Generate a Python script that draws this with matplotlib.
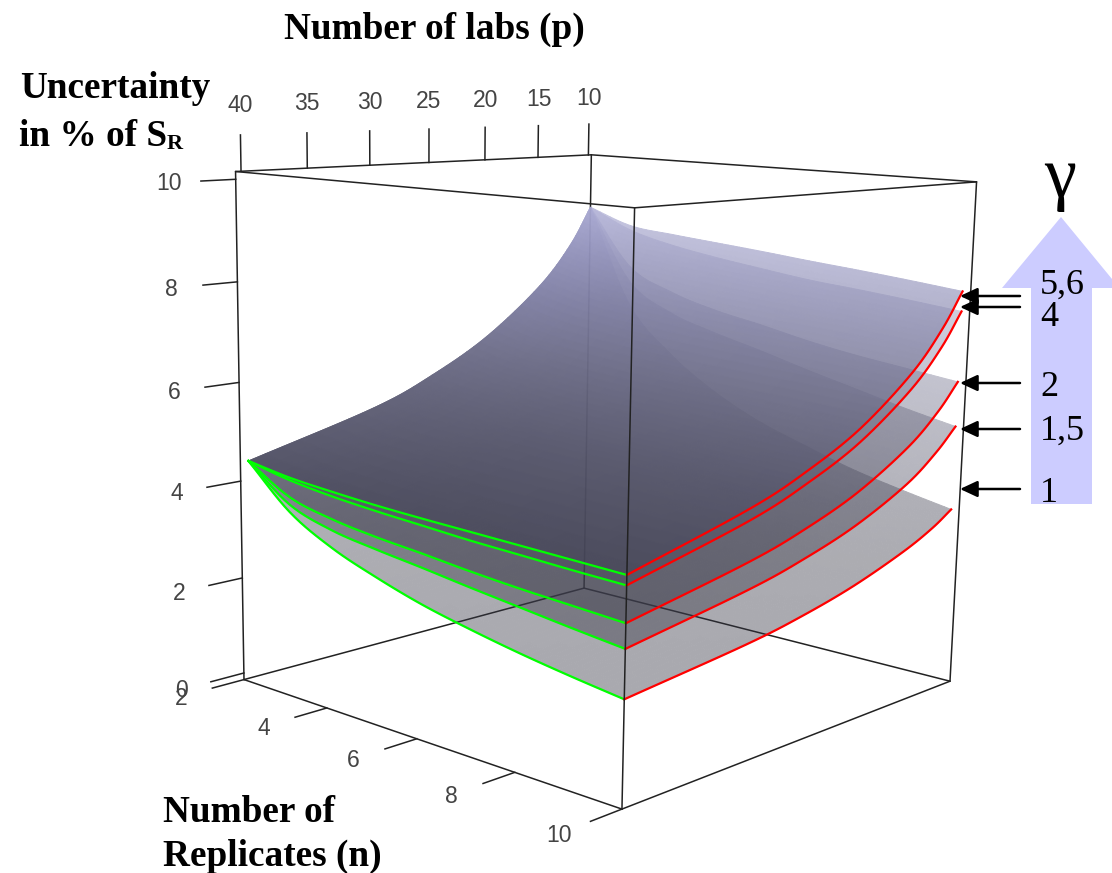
import matplotlib
matplotlib.use('Agg')
import matplotlib.pyplot as plt
from matplotlib.colors import LinearSegmentedColormap, Normalize
from matplotlib.patches import Polygon
import numpy as np

W, H = 1112, 873

# axes values
replicates = np.array([2, 3, 4, 5, 6, 7, 8, 9, 10], dtype=float)
labs = np.array([10, 12, 15, 20, 25, 30, 40], dtype=float)
n_ticks = [2, 4, 6, 8, 10]
p_ticks = [40, 35, 30, 25, 20, 15, 10]
z_ticks = [0, 2, 4, 6, 8, 10]

# uncertainty, rows = n (2..10), columns = p (10,12,15,20,25,30,40)
gamma_1 = np.array([
    [8.95, 8.12, 7.26, 6.28, 5.60, 5.10, 4.45],
    [6.83, 6.39, 5.78, 4.97, 4.48, 4.10, 3.62],
    [5.84, 5.49, 4.97, 4.27, 3.87, 3.52, 3.12],
    [5.17, 4.88, 4.42, 3.79, 3.42, 3.12, 2.78],
    [4.68, 4.38, 3.98, 3.44, 3.09, 2.83, 2.50],
    [4.33, 4.05, 3.68, 3.19, 2.85, 2.60, 2.29],
    [4.01, 3.75, 3.42, 2.96, 2.65, 2.40, 2.11],
    [3.77, 3.52, 3.20, 2.76, 2.47, 2.25, 1.96],
    [3.56, 3.28, 2.97, 2.58, 2.30, 2.10, 1.83]])
gamma_1_5 = np.array([
    [8.95, 8.12, 7.26, 6.28, 5.60, 5.10, 4.45],
    [7.35, 6.79, 6.14, 5.31, 4.75, 4.33, 3.77],
    [6.76, 6.24, 5.65, 4.88, 4.37, 3.98, 3.47],
    [6.46, 5.97, 5.41, 4.67, 4.18, 3.81, 3.32],
    [6.22, 5.75, 5.21, 4.50, 4.03, 3.67, 3.20],
    [5.96, 5.51, 5.00, 4.32, 3.86, 3.52, 3.07],
    [5.72, 5.29, 4.78, 4.13, 3.70, 3.38, 2.95],
    [5.48, 5.05, 4.56, 3.95, 3.54, 3.24, 2.83],
    [5.27, 4.83, 4.33, 3.78, 3.40, 3.12, 2.72]])
gamma_2 = np.array([
    [8.95, 8.12, 7.26, 6.28, 5.60, 5.10, 4.45],
    [7.69, 7.05, 6.35, 5.50, 4.92, 4.49, 3.92],
    [7.23, 6.63, 5.97, 5.17, 4.63, 4.23, 3.69],
    [6.96, 6.39, 5.76, 4.99, 4.47, 4.08, 3.56],
    [6.78, 6.23, 5.61, 4.86, 4.35, 3.97, 3.47],
    [6.58, 6.04, 5.44, 4.72, 4.23, 3.86, 3.37],
    [6.42, 5.90, 5.28, 4.60, 4.12, 3.76, 3.29],
    [6.30, 5.77, 5.18, 4.50, 4.05, 3.70, 3.23],
    [6.18, 5.66, 5.08, 4.42, 3.97, 3.64, 3.17]])
gamma_4 = np.array([
    [8.95, 8.12, 7.26, 6.28, 5.60, 5.10, 4.45],
    [8.52, 7.71, 6.87, 5.98, 5.38, 4.90, 4.26],
    [8.28, 7.50, 6.67, 5.80, 5.22, 4.76, 4.14],
    [8.12, 7.35, 6.54, 5.69, 5.12, 4.67, 4.06],
    [7.99, 7.24, 6.44, 5.60, 5.05, 4.60, 4.00],
    [7.87, 7.12, 6.36, 5.52, 4.97, 4.53, 3.94],
    [7.79, 7.08, 6.31, 5.47, 4.92, 4.49, 3.90],
    [7.70, 7.01, 6.26, 5.43, 4.87, 4.44, 3.86],
    [7.60, 6.94, 6.22, 5.39, 4.83, 4.41, 3.83]])
gamma_5_6 = np.array([
    [8.95, 8.12, 7.26, 6.28, 5.60, 5.10, 4.45],
    [8.62, 7.88, 7.03, 6.07, 5.45, 4.97, 4.31],
    [8.52, 7.76, 6.91, 5.96, 5.35, 4.88, 4.23],
    [8.44, 7.66, 6.82, 5.87, 5.27, 4.81, 4.17],
    [8.36, 7.59, 6.75, 5.81, 5.22, 4.76, 4.13],
    [8.27, 7.52, 6.70, 5.77, 5.18, 4.73, 4.10],
    [8.19, 7.47, 6.66, 5.74, 5.14, 4.69, 4.07],
    [8.10, 7.40, 6.61, 5.70, 5.10, 4.66, 4.04],
    [8.00, 7.31, 6.54, 5.66, 5.07, 4.63, 4.01]])

surfaces = [gamma_1, gamma_1_5, gamma_2, gamma_4, gamma_5_6]
layer_alpha = [0.65, 0.65, 0.65, 0.65, 0.81]

gamma_labels = ['5,6', '4', '2', '1,5', '1']
gamma_label_y = [285, 317, 387, 431, 493]
arrow_y = [296, 307, 383, 429, 489]
arrow_tip_x = [960, 960, 960, 960, 960]

# box limits, the frame is a bit bigger than the data
n_box = (2.0, 10.0)
p_box = (9.7, 40.4)
z_box = (-0.14, 10.15)

# where the box corners sit in the picture, used to fit the camera
corners = [
    (n_box[0], p_box[1], z_box[0], 244, 680), (n_box[0], p_box[1], z_box[1], 236, 171),
    (n_box[1], p_box[1], z_box[0], 622, 809), (n_box[1], p_box[1], z_box[1], 634, 208),
    (n_box[1], p_box[0], z_box[0], 950, 681), (n_box[1], p_box[0], z_box[1], 977, 182),
    (n_box[0], p_box[0], z_box[0], 584, 588), (n_box[0], p_box[0], z_box[1], 591, 155),
]


def fit_camera(points):
    rows, rhs = [], []
    for x, y, z, u, v in points:
        rows.append([x, y, z, 1, 0, 0, 0, 0, -u * x, -u * y, -u * z])
        rhs.append(u)
        rows.append([0, 0, 0, 0, x, y, z, 1, -v * x, -v * y, -v * z])
        rhs.append(v)
    h = np.linalg.lstsq(np.array(rows, float), np.array(rhs, float), rcond=None)[0]
    return np.array([h[:4], h[4:8], [0, 0, 0, 1], [h[8], h[9], h[10], 1]])


def curve(values, steps=8):
    # smooth draw path through one row of table values (hermite on the index)
    t = np.linspace(0, len(values) - 1, (len(values) - 1) * steps + 1)
    i = np.minimum(t.astype(int), len(values) - 2)
    u = t - i
    m = np.gradient(values)
    return ((2 * u**3 - 3 * u**2 + 1) * values[i] + (u**3 - 2 * u**2 + u) * m[i]
            + (-2 * u**3 + 3 * u**2) * values[i + 1] + (u**3 - u**2) * m[i + 1])


def refine(table, steps=8):
    by_col = np.array([curve(row, steps) for row in table])
    return np.array([curve(col, steps) for col in by_col.T]).T


def seat(n, p):
    # the surfaces sit slightly skewed inside the frame in the source picture
    n2 = n + 0.2 * (10 - n) / 8 * (p - 10) / 30
    p2 = (p + 0.4 * (p - 10) / 30 - 0.3 * (10 - n) / 8 * (40 - p) / 30
          + 0.6 * (n - 2) / 8 * (40 - p) / 30)
    return n2, p2


def fade(alpha):
    # whole sheet goes transparent at once, so the facets do not show as a grid
    def apply(img, dpi):
        img = img.copy()
        img[..., 3] *= alpha
        return img, 0, 0
    return apply


fig = plt.figure(figsize=(W / 100, H / 100), dpi=100)
fig.patch.set_facecolor('white')

# apply_aspect keeps 3d axes square, so make it a square that covers the figure
ax = fig.add_axes([0, -(W / H - 1) / 2, 1, W / H], projection='3d')
ax.set_axis_off()
ax.patch.set_visible(False)
ax.computed_zorder = False
ax.set_proj_type('ortho')  # only turns off the perspective clip, the camera is below
camera = fit_camera(corners)
ax.get_proj = lambda: camera
ax.viewLim.intervalx = (0, W)
ax.viewLim.intervaly = ((H + W) / 2, (H - W) / 2)


def to_picture(n, p, z):
    v = camera @ np.array([n, p, z, 1.0])
    return v[0] / v[3], v[1] / v[3]


line_kw = dict(color='#222222', lw=1.1, solid_capstyle='round')
n0, n1 = n_box
p0, p1 = p_box
z0, z1 = z_box

# back edges, seen through the surfaces
ax.plot([n0, n0], [p0, p1], [z0, z0], zorder=1, **line_kw)
ax.plot([n0, n1], [p0, p0], [z0, z0], zorder=1, **line_kw)
ax.plot([n0, n0], [p0, p0], [z0, z1], zorder=1, **line_kw)

shade = LinearSegmentedColormap.from_list('shade', [
    (0.0, (48 / 255, 48 / 255, 62 / 255)),
    (0.2, (58 / 255, 58 / 255, 72 / 255)),
    (0.333, (70 / 255, 70 / 255, 88 / 255)),
    (0.467, (90 / 255, 90 / 255, 112 / 255)),
    (0.6, (108 / 255, 108 / 255, 135 / 255)),
    (0.733, (125 / 255, 125 / 255, 160 / 255)),
    (0.867, (145 / 255, 145 / 255, 185 / 255)),
    (1.0, (168 / 255, 168 / 255, 210 / 255))])
norm = Normalize(1.5, 9.0)

n_fine, p_fine = curve(replicates), curve(labs)
N_grid, P_grid = np.meshgrid(n_fine, p_fine, indexing='ij')
N_fine, P_fine = seat(N_grid, P_grid)
for i, (table, alpha) in enumerate(zip(surfaces, layer_alpha)):
    Z_fine = refine(table)
    sheet = ax.plot_surface(N_fine, P_fine, Z_fine, facecolors=shade(norm(Z_fine)), rstride=1, cstride=1,
                            shade=False, antialiased=True, linewidth=0.7, zorder=2 + i * 0.1)
    sheet.set_agg_filter(fade(alpha))

    # edges of the surface
    ax.plot(N_fine[:, -1], P_fine[:, -1], Z_fine[:, -1], color='#00ff00', lw=1.6, zorder=3)
    ax.plot(N_fine[-1, :], P_fine[-1, :], Z_fine[-1, :], color='#ff0000', lw=1.6, zorder=3)

# front edges and top of the box
for xs, ys, zs in [([n0, n0], [p1, p1], [z0, z1]),
                   ([n1, n1], [p1, p1], [z0, z1]),
                   ([n1, n1], [p0, p0], [z0, z1]),
                   ([n0, n1], [p1, p1], [z0, z0]),
                   ([n1, n1], [p0, p1], [z0, z0]),
                   ([n0, n1], [p1, p1], [z1, z1]),
                   ([n1, n1], [p0, p1], [z1, z1]),
                   ([n0, n0], [p0, p1], [z1, z1]),
                   ([n0, n1], [p0, p0], [z1, z1])]:
    ax.plot(xs, ys, zs, zorder=4, **line_kw)

# annotation layer in picture pixels
top = fig.add_axes([0, 0, 1, 1])
top.set_xlim(0, W)
top.set_ylim(H, 0)
top.axis('off')

# ticks and tick labels
tick_kw = dict(color='#222222', lw=1.1, zorder=4)
label_kw = dict(family='Liberation Sans', fontsize=16.5, color='#444444', ha='center', va='center')
for z in z_ticks:
    ax.plot([n0, n0], [p1, p1 + 2.5], [z, z], **tick_kw)
    x, y = to_picture(n0, p1 + 4.7, z)
    top.text(x, y + 1, str(z), **label_kw)
for n in n_ticks:
    ax.plot([n, n], [p1, p1 + 2.4], [z0, z0], **tick_kw)
    x, y = to_picture(n, p1 + 4.7, z0)
    top.text(x, y + 2, str(n), **label_kw)
for p in p_ticks:
    ax.plot([n0, n0], [p, p], [z1, z1 + 0.7], **tick_kw)
    x, y = to_picture(n0, p, z1 + 1.27)
    top.text(x, y, str(p), **label_kw)

title_kw = dict(family='Liberation Serif', fontweight='bold', fontsize=26.8, color='black', va='center')
top.text(284, 29, 'Number of labs (p)', **title_kw)
top.text(20, 89, 'Uncertainty', **title_kw)
top.text(19, 136, 'in % of S', **title_kw)
top.text(167, 144, 'R', family='Liberation Serif', fontweight='bold', fontsize=16, va='center')
top.text(163, 813, 'Number of', **title_kw)
top.text(163, 856, 'Replicates (n)', **title_kw)

top.add_patch(Polygon([(1031, 504), (1031, 288), (1002, 288), (1061, 217), (1112, 279), (1112, 288),
                       (1092, 288), (1092, 504)], closed=True, facecolor='#ccccff', edgecolor='none'))
top.text(1060, 180, 'γ', family='Liberation Serif', fontsize=52, ha='center', va='center')

for label, y in zip(gamma_labels, gamma_label_y):
    top.text(1040, y, label, family='Liberation Serif', fontsize=26, va='center')
for tip, y in zip(arrow_tip_x, arrow_y):
    top.annotate('', xy=(tip, y), xytext=(1020, y),
                 arrowprops=dict(arrowstyle='-|>,head_length=0.75,head_width=0.35', color='black', lw=1.8,
                                 shrinkA=0, shrinkB=0, mutation_scale=14))

fig.savefig('out.png', dpi=100)
